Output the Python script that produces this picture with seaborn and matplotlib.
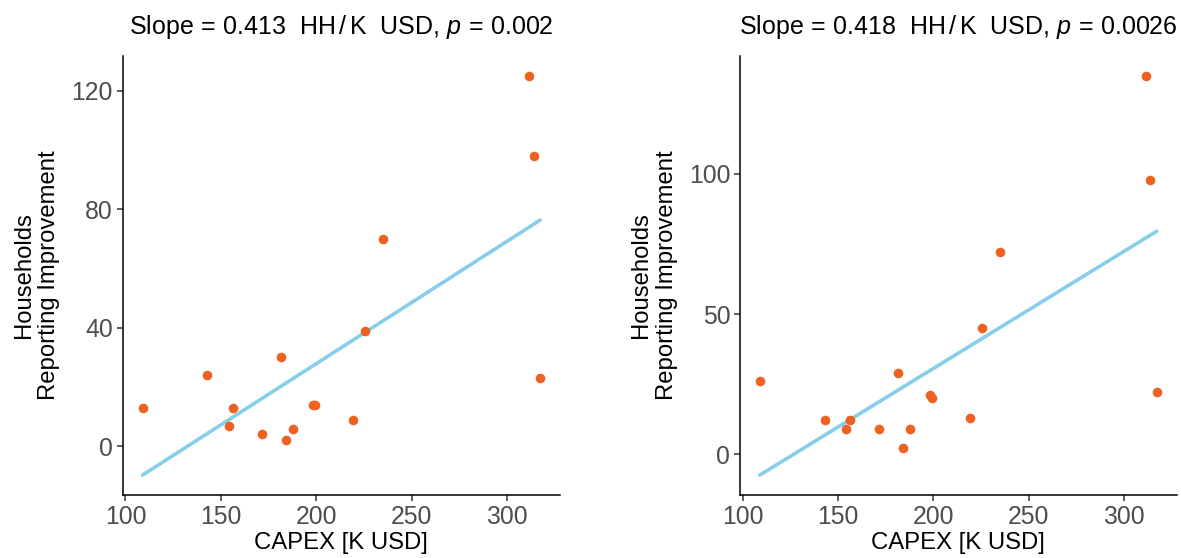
import pandas as pd
import matplotlib
matplotlib.use("Agg")
import matplotlib.pyplot as plt
import seaborn as sns

# CAPEX per site, K USD
capex = [109.0, 142.9, 156.5, 154.4, 171.5, 181.6, 183.9, 187.7,
         198.3, 199.5, 219.2, 225.7, 234.7, 311.6, 313.8, 317.2]
# households reporting improvement, two survey versions
hh_left = [13, 24, 13, 7, 4, 30, 2, 6, 14, 14, 9, 39, 70, 125, 98, 23]
hh_right = [26, 12, 12, 9, 9, 29, 2, 9, 21, 20, 13, 45, 72, 135, 98, 22]

titles = [r"Slope$\,=\,$0.413  HH$\,/\,$K  USD, $p\,=\,$0.002",
          r"Slope$\,=\,$0.418  HH$\,/\,$K  USD, $p\,=\,$0.0026"]
left_ticks = [0, 40, 80, 120]
right_ticks = [0, 50, 100]
x_ticks = [100, 150, 200, 250, 300]

sns.set_style("ticks")
plt.rcParams["font.family"] = ["Liberation Sans", "DejaVu Sans"]
plt.rcParams["mathtext.fontset"] = "custom"
plt.rcParams["mathtext.rm"] = "Liberation Sans"
plt.rcParams["mathtext.it"] = "Liberation Sans:italic"

fig = plt.figure(figsize=(11.81, 5.58), dpi=100)
ax1 = fig.add_axes([0.1039, 0.1129, 0.3703, 0.7867])
ax2 = fig.add_axes([0.6266, 0.1129, 0.3698, 0.7867])

point_color = "#EE6120"
line_color = "#87CEEB"

for ax, hh, title, yt in [(ax1, hh_left, titles[0], left_ticks),
                          (ax2, hh_right, titles[1], right_ticks)]:
    df = pd.DataFrame({"capex": capex, "hh": hh})
    sns.regplot(data=df, x="capex", y="hh", ax=ax, ci=None,
                scatter_kws={"s": 48, "color": point_color, "linewidths": 0, "alpha": 1, "zorder": 3},
                line_kws={"color": line_color, "lw": 2.6, "zorder": 2})
    ax.margins(0.05)
    ax.set_xticks(x_ticks)
    ax.set_yticks(yt)
    ax.set_xlabel("CAPEX [K USD]", fontsize=17.2, color="black", labelpad=2)
    ax.set_ylabel("Households\nReporting Improvement", fontsize=17.2, color="black",
                  labelpad=8)
    ax.set_title(title, fontsize=18, pad=16, color="black")
    ax.tick_params(labelsize=17.8, labelcolor="#4D4D4D", length=4, width=1.1,
                   color="#333333", pad=3)
    for s in ["left", "bottom"]:
        ax.spines[s].set_linewidth(1.1)
        ax.spines[s].set_color("black")
    sns.despine(ax=ax)

fig.savefig("out.png", dpi=100)
